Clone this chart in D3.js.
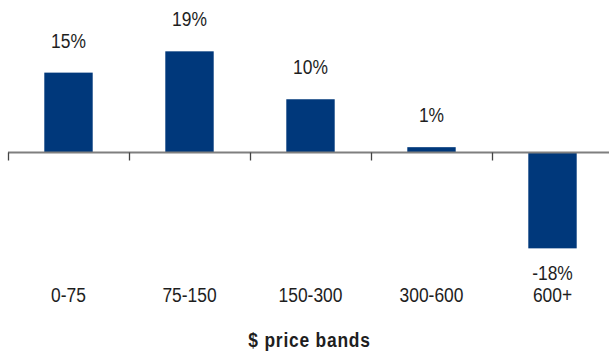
<!DOCTYPE html>
<html>
<head>
<meta charset="utf-8">
<script src="https://cdn.jsdelivr.net/npm/d3@7"></script>
<style>
  html, body { margin: 0; padding: 0; background: #fff; }
  svg { display: block; }
  text { font-family: "Liberation Sans", Arial, sans-serif; fill: #1e1e1e; }
</style>
</head>
<body>
<svg id="chart" width="609" height="355"></svg>
<script>
// Growth by price band
const categories = ["0-75", "75-150", "150-300", "300-600", "600+"];
const values = [15, 19, 10, 1, -18];
const valueLabels = ["15%", "19%", "10%", "1%", "-18%"];
const axisTitle = "$ price bands";

const svg = d3.select("#chart");
const W = 609, H = 355;
const narrow = 0.87; // horizontal squeeze for a condensed look

const x = d3.scaleBand()
  .domain(categories)
  .range([8, 613])
  .paddingInner(0)
  .paddingOuter(0);

const y = d3.scaleLinear()
  .domain([-20, 20])
  .range([259, 46]);

const barW = x.bandwidth() * 0.4;
const y0 = y(0);

// bars
svg.append("g")
  .selectAll("rect")
  .data(values)
  .join("rect")
  .attr("x", (d, i) => x(categories[i]) + (x.bandwidth() - barW) / 2)
  .attr("y", d => Math.min(y(d), y0))
  .attr("width", barW)
  .attr("height", d => Math.abs(y(d) - y0))
  .attr("fill", "#00387b");

// zero axis line with category tick marks between bands
svg.append("line")
  .attr("x1", x.range()[0]).attr("x2", W)
  .attr("y1", y0).attr("y2", y0)
  .attr("stroke", "#7f7f7f")
  .attr("stroke-width", 2);

const tickXs = categories.map(c => x(c)).concat([x.range()[1]]);
svg.append("g")
  .selectAll("line")
  .data(tickXs)
  .join("line")
  .attr("x1", d => d + 0.5).attr("x2", d => d + 0.5)
  .attr("y1", y0).attr("y2", y0 + 8)
  .attr("stroke", "#444")
  .attr("stroke-width", 1.3);

function squeezed(sel, cx, cy) {
  return sel.attr("transform", (d, i) => `translate(${cx(d, i)},${cy(d, i)}) scale(${narrow},1)`)
    .attr("text-anchor", "middle");
}

// value labels
squeezed(
  svg.append("g").selectAll("text").data(values).join("text"),
  (d, i) => x(categories[i]) + x.bandwidth() / 2,
  d => d >= 0 ? y(d) - 25 : y(d) + 32
)
  .style("font-size", "20px")
  .text((d, i) => valueLabels[i]);

// category labels
squeezed(
  svg.append("g").selectAll("text").data(categories).join("text"),
  d => x(d) + x.bandwidth() / 2,
  () => 301.5
)
  .style("font-size", "20px")
  .text(d => d);

// axis title
squeezed(
  svg.append("g").selectAll("text").data([axisTitle]).join("text"),
  () => 309.5,
  () => 346.5
)
  .style("font-size", "20px")
  .style("font-weight", "bold")
  .style("letter-spacing", "0.9px")
  .text(d => d);
</script>
</body>
</html>
